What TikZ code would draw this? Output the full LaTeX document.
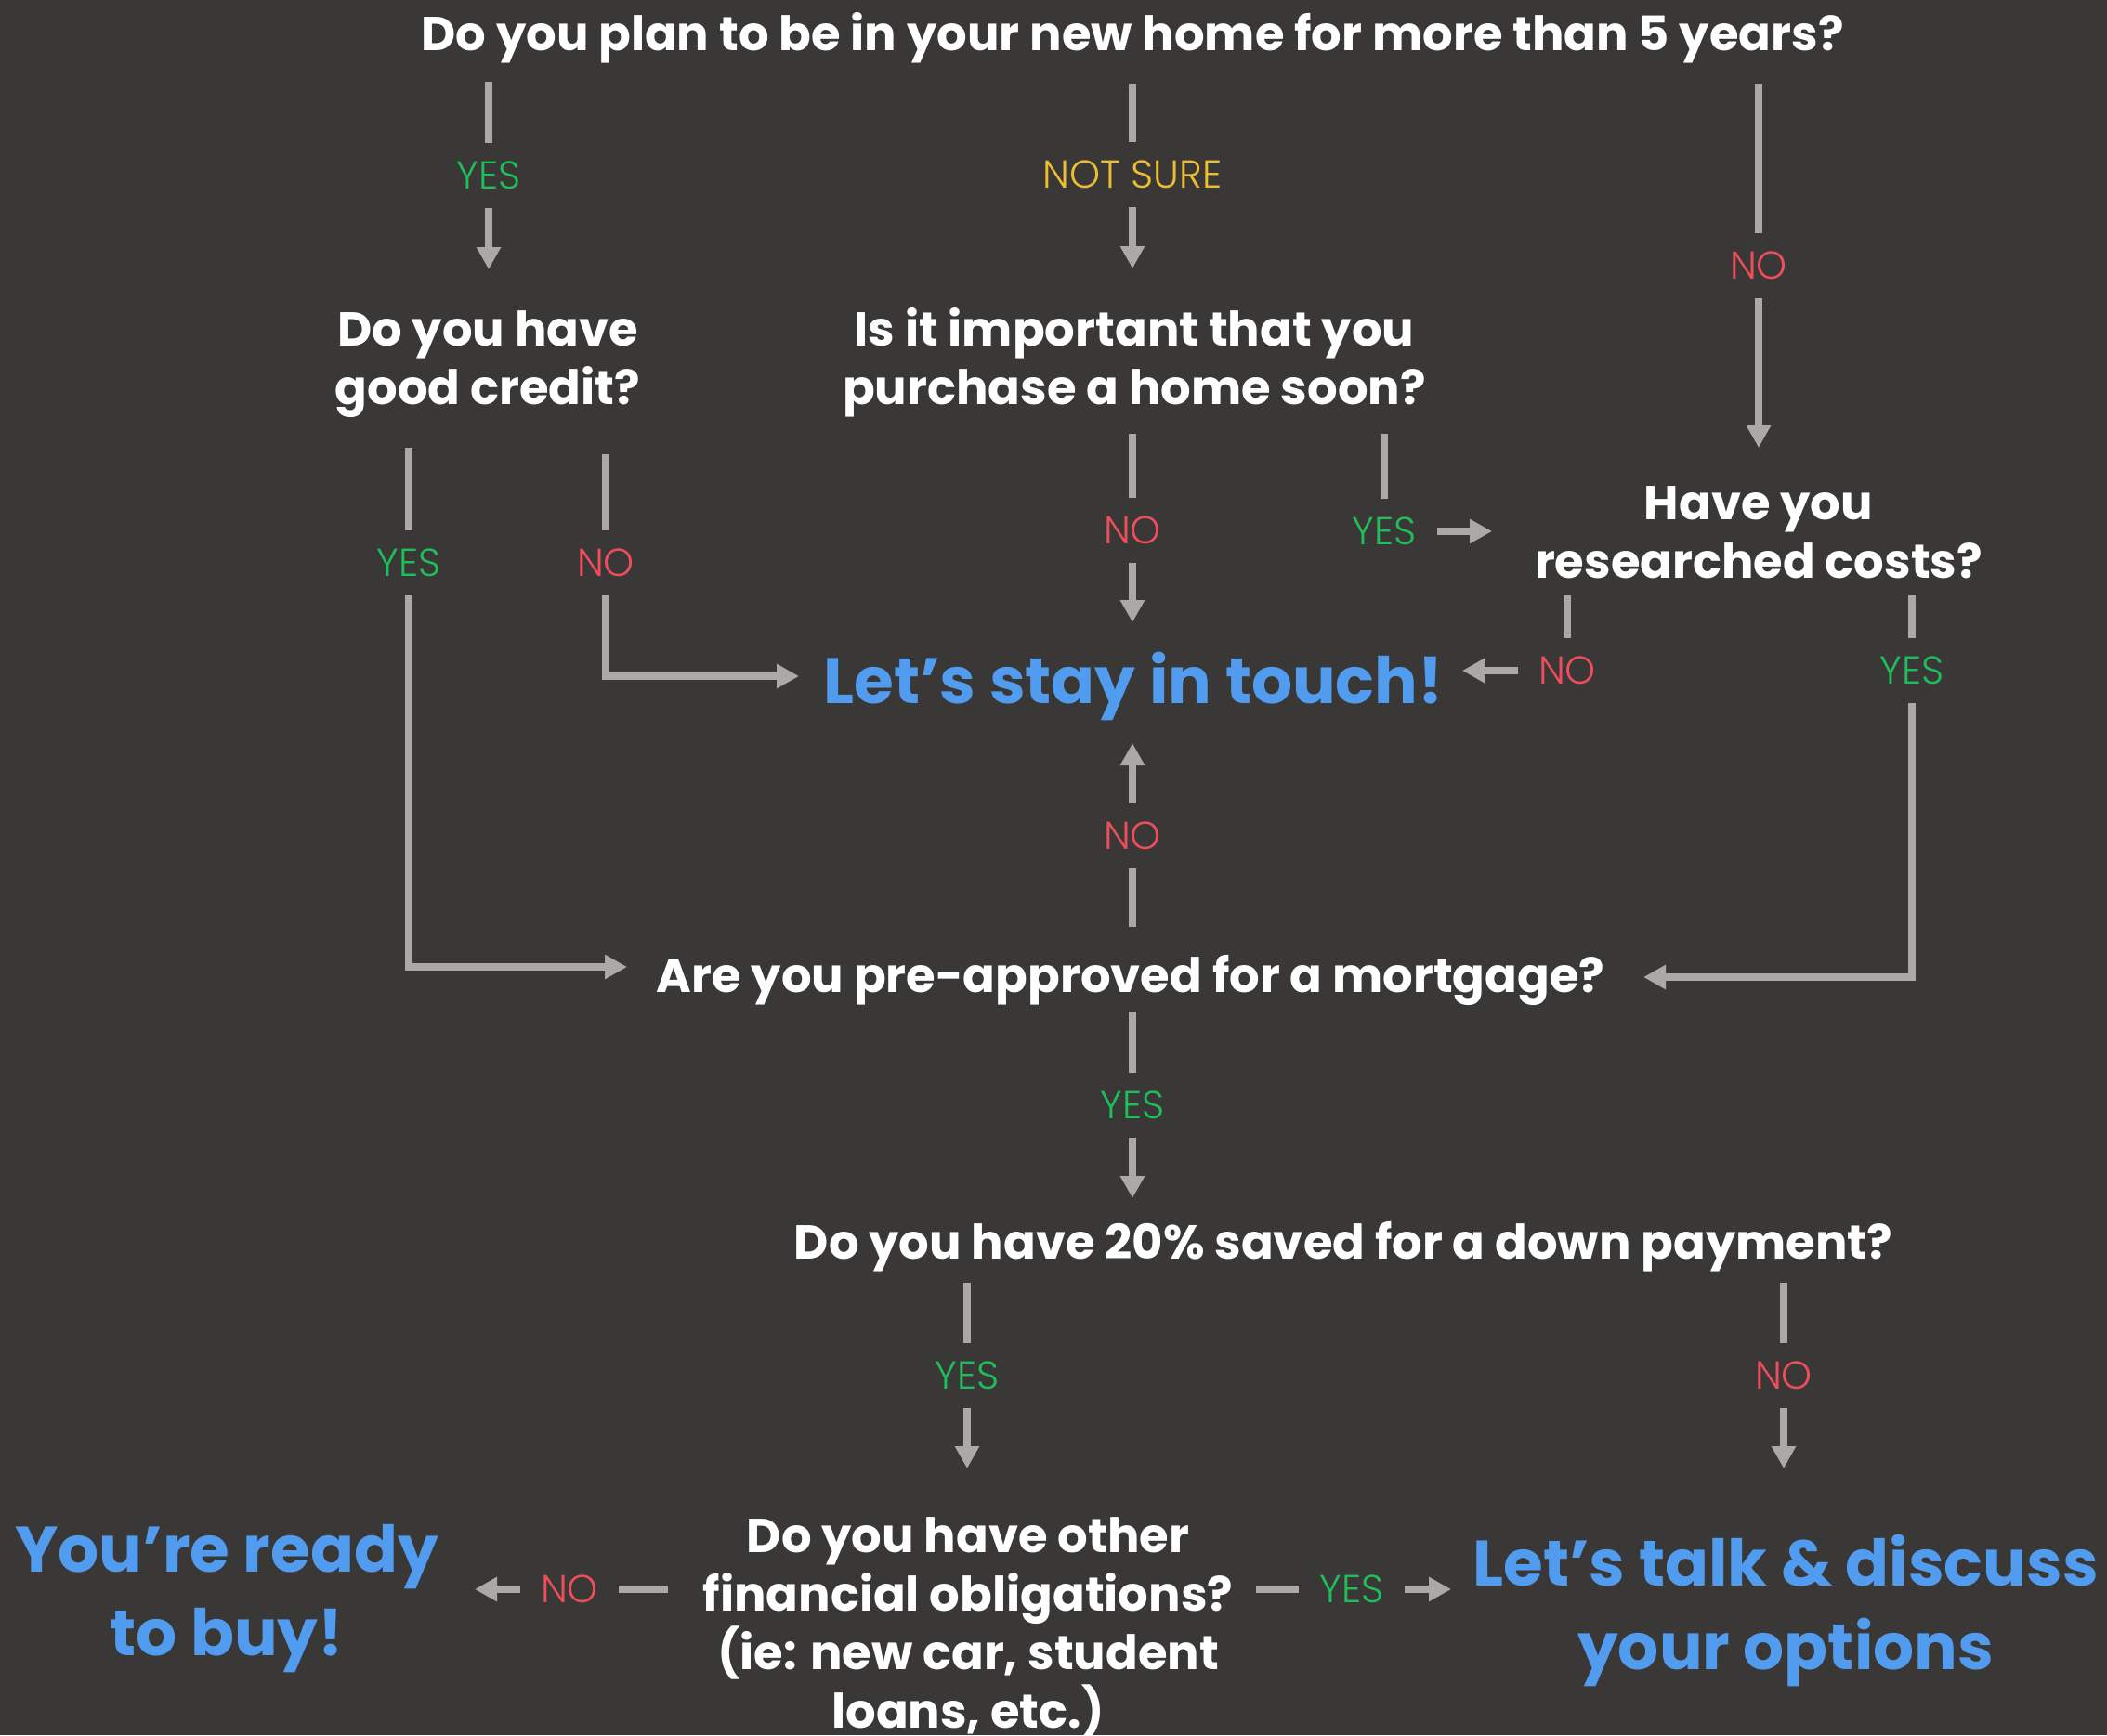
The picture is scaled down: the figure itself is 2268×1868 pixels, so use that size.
\documentclass[tikz,border=0pt]{standalone}
\usepackage{fontspec}
\setmainfont{Poppins}
\newfontfamily\labfont{Poppins Light}
\usetikzlibrary{arrows.meta}
\definecolor{bg}{RGB}{58,56,55}
\definecolor{arrowgray}{RGB}{171,168,166}
\definecolor{yesgreen}{RGB}{30,190,90}
\definecolor{nored}{RGB}{238,78,92}
\definecolor{sureyellow}{RGB}{238,190,50}
\definecolor{ansblue}{RGB}{82,156,240}
\begin{document}
\begin{tikzpicture}[x=0.5pt,y=-0.5pt,
  ln/.style={draw=arrowgray, line width=4pt},
  arr/.style={ln, -{Triangle[length=12pt,width=12.5pt]}},
  lab/.style={font=\labfont\fontsize{21}{21}\selectfont, text height=14.7pt, text depth=0pt,
              inner xsep=11pt, inner ysep=10pt, anchor=center},
  yes/.style={lab, text=yesgreen},
  no/.style={lab, text=nored},
  unsure/.style={lab, text=sureyellow},
  q/.style={font=\bfseries\fontsize{25.6}{31.5}\selectfont, text=white, align=center, inner sep=0pt, anchor=base},
  ans/.style={font=\bfseries\fontsize{34.6}{45}\selectfont, text=ansblue, align=center, inner sep=0pt, anchor=base},
]
\fill[bg] (0,0) rectangle (2268,1868);
\useasboundingbox (0,0) rectangle (2268,1868);

% questions and answers (base anchor = baseline of the last line)
\node[q] (q1) at (1219,55) {Do you plan to be in your new home for more than 5 years?};
\node[q] (q2) at (525,435) {Do you have\\good credit?};
\node[q] (q3) at (1221,435) {Is it important that you\\purchase a home soon?};
\node[q] (q4) at (1893,622) {Have you\\researched costs?};
\node[ans] (touch) at (1220,757) {Let’s stay in touch!};
\node[q] (q5) at (1217,1068) {Are you pre-approved for a mortgage?};
\node[q] (q6) at (1446,1355) {Do you have 20\% saved for a down payment?};
\node[q] (q7) at (1042,1860) {Do you have other\\financial obligations?\\(ie: new car, student\\loans, etc.)};
\node[ans] (ready) at (244,1782) {You’re ready\\to buy!};
\node[ans] (talk) at (1922,1797) {Let’s talk \& discuss\\your options};

% labels
\node[yes] (l1) at (526,189) {YES};
\node[unsure] (l2) at (1219,188) {NOT SURE};
\node[no] (l3) at (1893,286) {NO};
\node[yes] (l4) at (440,606) {YES};
\node[no] (l5) at (652,606) {NO};
\node[no] (l6) at (1219,571) {NO};
\node[yes] (l7) at (1490,572) {YES};
\node[no] (l8) at (1687,722) {NO};
\node[yes] (l9) at (2058,722) {YES};
\node[no] (l10) at (1219,900) {NO};
\node[yes] (l11) at (1219,1190) {YES};
\node[yes] (l12) at (1041,1481) {YES};
\node[no] (l13) at (1920,1481) {NO};
\node[no] (l14) at (613,1711) {NO};
\node[yes] (l15) at (1455,1711) {YES};

% connector ends
\coordinate (s1) at (526,88);   \coordinate (t1) at (526,290);
\coordinate (s2) at (1219,90);  \coordinate (t2) at (1219,289);
\coordinate (s3) at (1893,90);  \coordinate (t3) at (1893,482);
\coordinate (s4) at (440,482);  \coordinate (t4) at (675,1041);
\coordinate (s5) at (652,489);  \coordinate (t5) at (860,728);
\coordinate (s6) at (1219,467); \coordinate (t6) at (1219,670);
\coordinate (s7) at (1490,467); \coordinate (t7) at (1606,572);
\coordinate (s8) at (1687,641); \coordinate (t8) at (1574,722);
\coordinate (s9) at (2058,641); \coordinate (t9) at (1769,1052);
\coordinate (s10) at (1219,998); \coordinate (t10) at (1219,800);
\coordinate (s11) at (1219,1089); \coordinate (t11) at (1219,1290);
\coordinate (s12) at (1041,1381); \coordinate (t12) at (1041,1581);
\coordinate (s13) at (1920,1381); \coordinate (t13) at (1920,1581);
\coordinate (s14) at (719,1711); \coordinate (t14) at (511,1711);
\coordinate (s15) at (1352,1711); \coordinate (t15) at (1562,1711);

% connectors
\draw[ln] (s1) -- (l1);  \draw[arr] (l1) -- (t1);
\draw[ln] (s2) -- (l2);  \draw[arr] (l2) -- (t2);
\draw[ln] (s3) -- (l3);  \draw[arr] (l3) -- (t3);
\draw[ln] (s4) -- (l4);  \draw[arr] (l4) |- (t4);
\draw[ln] (s5) -- (l5);  \draw[arr] (l5) |- (t5);
\draw[ln] (s6) -- (l6);  \draw[arr] (l6) -- (t6);
\draw[ln] (s7) -- (l7);  \draw[arr] (l7) -- (t7);
\draw[ln] (s8) -- (l8);  \draw[arr] (l8) -- (t8);
\draw[ln] (s9) -- (l9);  \draw[arr] (l9) |- (t9);
\draw[ln] (s10) -- (l10); \draw[arr] (l10) -- (t10);
\draw[ln] (s11) -- (l11); \draw[arr] (l11) -- (t11);
\draw[ln] (s12) -- (l12); \draw[arr] (l12) -- (t12);
\draw[ln] (s13) -- (l13); \draw[arr] (l13) -- (t13);
\draw[ln] (s14) -- (l14); \draw[arr] (l14) -- (t14);
\draw[ln] (s15) -- (l15); \draw[arr] (l15) -- (t15);
\end{tikzpicture}
\end{document}
